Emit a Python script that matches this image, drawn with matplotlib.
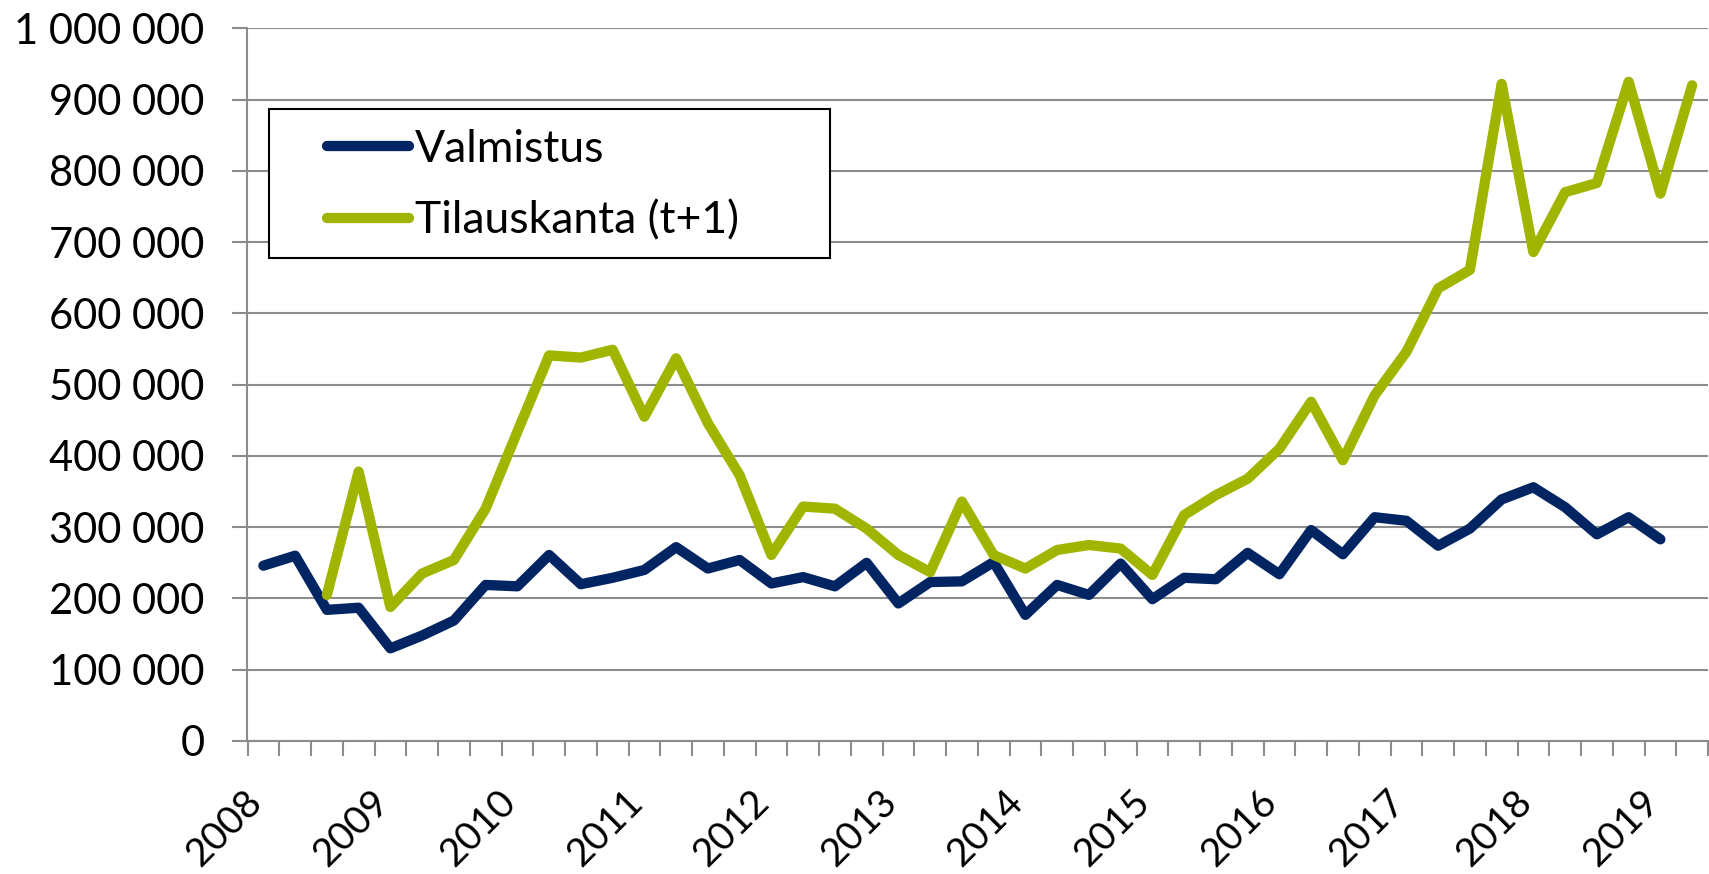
import numpy as np
import matplotlib
matplotlib.use("Agg")
import matplotlib.pyplot as plt
from matplotlib.patches import Rectangle
from matplotlib.ticker import FuncFormatter, FixedLocator
from matplotlib.transforms import ScaledTranslation

plt.rcParams['font.family'] = ['Lato', 'DejaVu Sans']

# quarterly data, 2008Q1 .. 2019Q2
years = ["2008", "2009", "2010", "2011", "2012", "2013",
         "2014", "2015", "2016", "2017", "2018", "2019"]
n_quarters = 46

valmistus = [246, 260, 184, 187, 130, 148, 169, 219, 217, 261, 220, 229,
             240, 272, 242, 254, 221, 230, 217, 250, 193, 223, 224, 251,
             177, 219, 205, 249, 199, 229, 227, 264, 234, 296, 262, 314,
             309, 274, 298, 339, 356, 328, 290, 314, 283]
tilauskanta = [205, 378, 188, 235, 254, 326, 434, 541, 538, 549, 455, 537,
               446, 373, 261, 329, 326, 298, 261, 237, 336, 261, 242, 268,
               275, 270, 233, 317, 345, 368, 410, 476, 394, 485, 546, 635,
               661, 922, 686, 770, 783, 925, 768, 920]
tilauskanta_start = 2  # first quarter with data

BLUE = '#002562'
GREEN = '#9FB500'
GRID = '#8C8C8C'

W, H = 1709, 874
fig = plt.figure(figsize=(W / 100, H / 100), dpi=100)
ax = fig.add_axes([247.5 / W, 1 - 741 / H, (1708 - 247.5) / W, (741 - 28.3) / H])

x_val = np.arange(len(valmistus))
x_til = np.arange(len(tilauskanta)) + tilauskanta_start
ax.plot(x_val, np.array(valmistus) * 1000, color=BLUE, lw=7.4,
        solid_capstyle='round', solid_joinstyle='round', label='Valmistus', zorder=3)
ax.plot(x_til, np.array(tilauskanta) * 1000, color=GREEN, lw=7.4,
        solid_capstyle='round', solid_joinstyle='round', label='Tilauskanta (t+1)', zorder=3)

ax.set_xlim(-0.5, n_quarters - 0.5)
ax.set_ylim(0, 1000000)

# y axis
ax.set_yticks(np.arange(0, 1000001, 100000))
ax.yaxis.set_major_formatter(FuncFormatter(lambda v, p: f"{int(v):,}".replace(",", " ")))
ax.grid(axis='y', color=GRID, lw=1.5, zorder=0)
ax.set_axisbelow(True)

# x axis: ticks at quarter boundaries, year labels at Q1
ax.xaxis.set_minor_locator(FixedLocator(np.arange(-0.5, n_quarters, 1)))
ax.set_xticks(np.arange(0, n_quarters, 4)[:len(years)])
ax.set_xticklabels(years, rotation=45, ha='right', va='baseline', rotation_mode='anchor')
shift = ScaledTranslation(10 / 100, 0, fig.dpi_scale_trans)
for lab in ax.get_xticklabels():
    lab.set_transform(lab.get_transform() + shift)

for s in ['top', 'right']:
    ax.spines[s].set_visible(False)
for s in ['left', 'bottom']:
    ax.spines[s].set_color(GRID)
    ax.spines[s].set_linewidth(1.5)

ax.tick_params(axis='y', which='major', length=10.8, width=1.5, color=GRID,
               pad=20, labelsize=30)
ax.tick_params(axis='x', which='major', length=0, pad=45.5, labelsize=28)
ax.tick_params(axis='x', which='minor', length=10.8, width=1.5, color=GRID)

# legend box
box = Rectangle((269 / W, 1 - 258 / H), (830 - 269) / W, (258 - 109) / H,
                transform=fig.transFigure, facecolor='white', edgecolor='black',
                lw=1.5, zorder=4)
fig.patches.append(box)
leg = fig.legend(loc='center left', bbox_to_anchor=(327 / W, 1 - 185 / H),
                 frameon=False, fontsize=32, borderpad=0, borderaxespad=0,
                 handlelength=1.85, handletextpad=0.12, labelspacing=0.68)
leg.set_zorder(5)
for line in leg.get_lines():
    line.set_solid_capstyle('round')

fig.savefig('out.png', dpi=100)
